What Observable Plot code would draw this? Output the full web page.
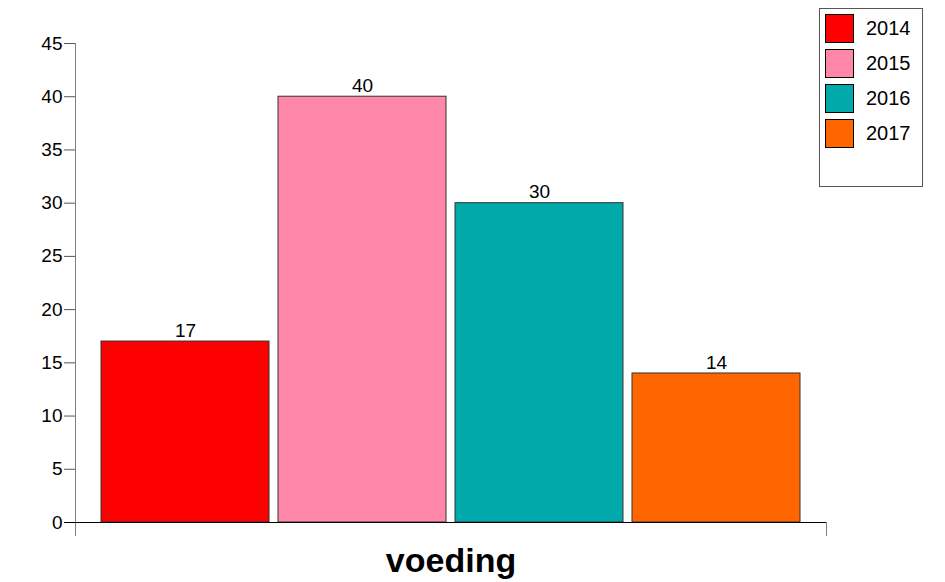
<!DOCTYPE html>
<html><head><meta charset="utf-8">
<script src="https://cdn.jsdelivr.net/npm/d3@7"></script>
<script src="https://cdn.jsdelivr.net/npm/@observablehq/plot@0.6"></script>
<style>
body{margin:0;background:#fff;font-family:"Liberation Sans",Arial,sans-serif;}
#wrap{position:relative;width:945px;height:582px;}
#legend{position:absolute;left:819px;top:8px;width:104px;height:179px;border:1px solid #555;box-sizing:border-box;}
.item{position:absolute;left:5px;height:29px;display:flex;align-items:center;font-size:20px;color:#000;}
.sw{width:27px;height:27px;border:1px solid #000;margin-right:12px;}
</style></head>
<body><div id="wrap"><div id="chart"></div><div id="legend"></div></div>
<script>
const years = ["2014", "2015", "2016", "2017"];
const values = [17, 40, 30, 14];
const colors = ["#FF0000", "#FF88AA", "#00AAAA", "#FF6600"];
const category = "voeding";
const yTicks = [0, 5, 10, 15, 20, 25, 30, 35, 40, 45];

const data = years.map((y, i) => ({year: y, value: values[i]}));

const chart = Plot.plot({
  width: 945, height: 582,
  marginLeft: 75, marginRight: 119, marginTop: 43, marginBottom: 60,
  style: {fontFamily: "'Liberation Sans', Arial, sans-serif", fontSize: "19px", color: "#000", background: "#fff"},
  x: {domain: years, paddingInner: 0.05, paddingOuter: 0.146, axis: null},
  y: {domain: [0, 45], ticks: yTicks, label: null},
  color: {domain: years, range: colors},
  marks: [
    Plot.axisY({ticks: yTicks, tickSize: 11, tickPadding: 2, stroke: "#555", fontSize: 19, label: null}),
    Plot.frame({anchor: "left", stroke: "#808080", insetBottom: -13}),
    Plot.frame({anchor: "right", stroke: "#808080", insetBottom: -13, insetTop: 479}),
    Plot.barY(data, {x: "year", y: "value", fill: "year", stroke: "#333", strokeWidth: 1}),
    Plot.ruleY([0], {stroke: "#000", insetLeft: -11}),
    Plot.text(data, {x: "year", y: "value", text: d => String(d.value), dy: -11, fontSize: 19, fill: "#000"}),
    Plot.text([category], {frameAnchor: "bottom", dy: 49, text: d => d, fontSize: 34, fontWeight: "bold", fill: "#000", x: null})
  ]
});
document.getElementById("chart").appendChild(chart);

const legend = document.getElementById("legend");
years.forEach((y, i) => {
  const it = document.createElement("div");
  it.className = "item";
  it.style.top = (5 + i * 35) + "px";
  it.innerHTML = `<div class="sw" style="background:${colors[i]}"></div><span>${y}</span>`;
  legend.appendChild(it);
});
</script></body></html>
